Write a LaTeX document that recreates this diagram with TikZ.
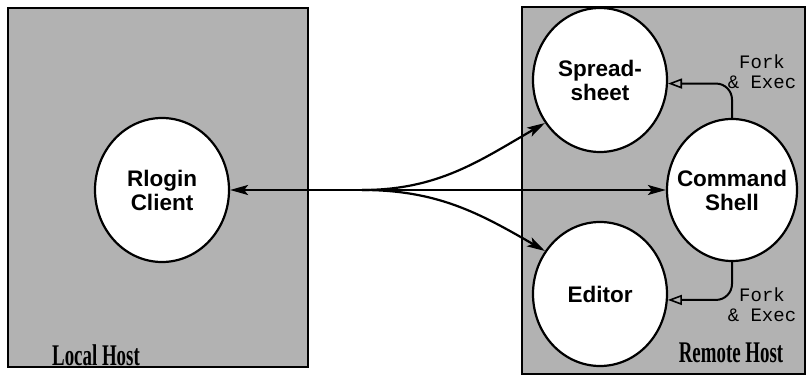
\documentclass[tikz,border=0pt]{standalone}
\usepackage{fontspec}
\setmainfont{Liberation Sans}
\newfontfamily\forkfont{Liberation Mono}
\newfontfamily\hostfont{Liberation Serif}
\usetikzlibrary{arrows.meta, shapes.geometric}
\tikzset{
  host/.style={draw=black, line width=1.8pt, fill=black!30},
  proc/.style={ellipse, draw=black, line width=2.2pt, fill=white, align=center,
               font=\fontsize{22.5}{24}\selectfont\bfseries,
               minimum width=134pt, minimum height=144pt, inner sep=0pt},
  link/.style={line width=2.2pt, >={Stealth[length=18pt, width=10pt, inset=4pt]}},
  forkarrow/.style={line width=2pt, rounded corners=16pt,
                    -{Triangle[open, length=14pt, width=10pt, line width=1.6pt]}},
  forklabel/.style={align=center, font=\forkfont\fontsize{19}{20}\selectfont},
  hostlabel/.style={font=\hostfont\bfseries\fontsize{30}{30}\selectfont,
                    xscale=0.63, transform shape},
}

\begin{document}
\begin{tikzpicture}[x=1pt, y=1pt]
\useasboundingbox (0,0) rectangle (807,377);
% the two hosts
\draw[host] (8,10) rectangle (308,369);
\draw[host] (522,3) rectangle (805,370);
\node[hostlabel] (local) at (96,22) {Local Host};
\node[hostlabel] (remote) at (731,24) {Remote Host};
% processes
\node[proc] (client) at (162,187) {Rlogin\\Client};
\node[proc] (spread) at (600,297) {Spread-\\sheet};
\node[proc] (editor) at (600,83) {Editor};
\node[proc, inner xsep=-16pt, minimum width=130pt, minimum height=142pt] (shell) at (732,187) {Command\\Shell};
\coordinate (hub) at (362,187);
% rlogin connection
\draw[link, <->] (client) -- (shell);
\draw[link, ->] (hub) to[out=0, in=210] (spread.218);
\draw[link, ->] (hub) to[out=0, in=150] (editor.142);
% fork & exec
\draw[forkarrow] (shell.north) |- (spread.-3);
\node[forklabel] (fork1) at (762,305) {Fork\\\& Exec};
\draw[forkarrow] (shell.south) |- (editor.-5);
\node[forklabel] (fork2) at (762,72) {Fork\\\& Exec};
\end{tikzpicture}
\end{document}
